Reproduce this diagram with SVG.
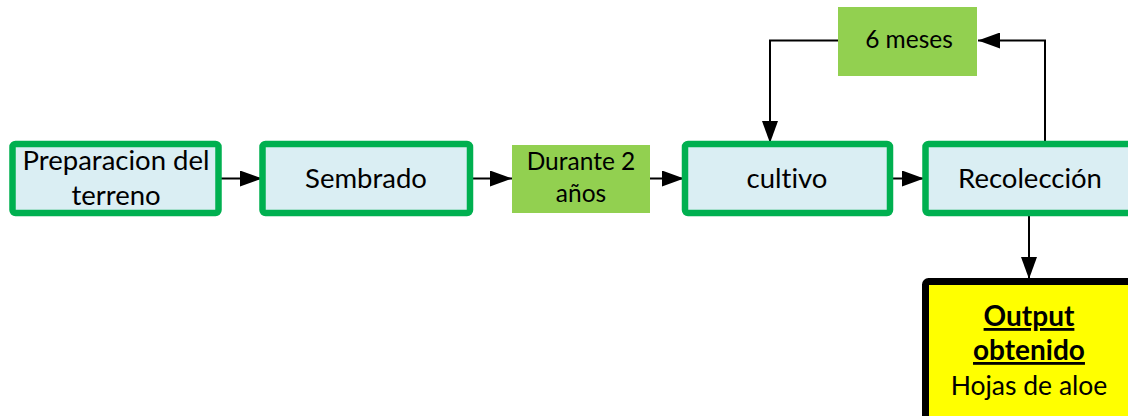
<svg xmlns="http://www.w3.org/2000/svg" width="1128" height="416" viewBox="0 0 1128 416">
<defs>
<style>
.box{fill:#DAEEF3;stroke:#00B050;stroke-width:6.5}
.green{fill:#92D050}
.out{fill:#FFFF00;stroke:#000;stroke-width:7}
.t{font-family:Lato,"Liberation Sans",sans-serif;font-size:27.5px;fill:#000;text-anchor:middle;font-variant-ligatures:none}
.s{font-size:24.5px}
.o{font-size:26.5px}
.b{font-weight:bold;text-decoration:underline;font-size:28px}
.c{fill:none;stroke:#000;stroke-width:2}
</style>
<marker id="ah" viewBox="0 0 22 16" refX="22" refY="8" markerWidth="22" markerHeight="16" markerUnits="userSpaceOnUse" orient="auto">
<path d="M0,0 L22,8 L0,16 Z" fill="#000"/>
</marker>
</defs>
<rect width="1128" height="416" fill="#fff"/>
<g id="connectors">
<line class="c" x1="218" y1="178.5" x2="262" y2="178.5" marker-end="url(#ah)"/>
<line class="c" x1="470" y1="178.5" x2="512" y2="178.5" marker-end="url(#ah)"/>
<line class="c" x1="650" y1="178.5" x2="684" y2="178.5" marker-end="url(#ah)"/>
<line class="c" x1="890" y1="178.5" x2="924" y2="178.5" marker-end="url(#ah)"/>
<polyline class="c" points="1045,143 1045,40.5 978,40.5" marker-end="url(#ah)"/>
<polyline class="c" points="838,40.5 770,40.5 770,143" marker-end="url(#ah)"/>
<line class="c" x1="1029" y1="214" x2="1029" y2="279" marker-end="url(#ah)"/>
</g>
<g id="n1">
<rect class="box" x="12.5" y="144" width="206" height="69" rx="3"/>
<text class="t" x="116" y="170">Preparacion del</text>
<text class="t" x="116" y="205">terreno</text>
</g>
<g id="n2">
<rect class="box" x="262.5" y="144" width="207.5" height="69" rx="3"/>
<text class="t" x="366" y="188">Sembrado</text>
</g>
<g id="n3">
<rect class="green" x="512" y="145" width="138" height="68"/>
<text class="t s" x="581" y="170">Durante 2</text>
<text class="t s" x="581" y="202">años</text>
</g>
<g id="n4">
<rect class="box" x="685" y="144" width="205" height="69" rx="3"/>
<text class="t" x="787" y="188">cultivo</text>
</g>
<g id="n5">
<rect class="box" x="925.5" y="144" width="206" height="69" rx="3"/>
<text class="t" x="1030" y="188">Recolección</text>
</g>
<g id="n6">
<rect class="green" x="838" y="7" width="139" height="69"/>
<text class="t s" x="909" y="48">6 meses</text>
</g>
<g id="n7">
<rect class="out" x="925.5" y="281.5" width="206" height="150" rx="3"/>
<text class="t b" x="1029" y="326">Output</text>
<text class="t b" x="1029" y="360">obtenido</text>
<text class="t o" x="1029" y="395">Hojas de aloe</text>
</g>
</svg>
